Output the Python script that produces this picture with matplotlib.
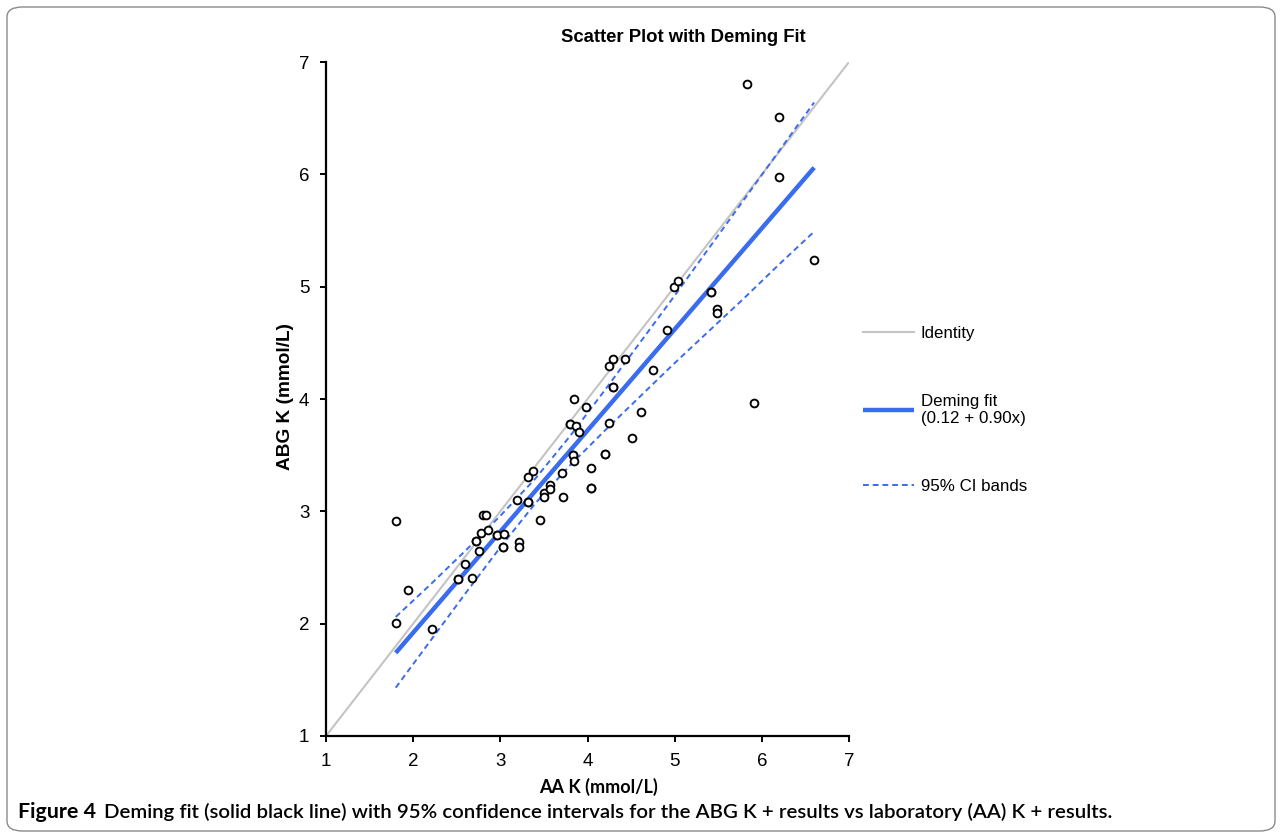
import matplotlib
matplotlib.use("Agg")
import matplotlib.pyplot as plt
from matplotlib.patches import FancyBboxPatch
from matplotlib.lines import Line2D

# ---------------- data ----------------
aa_k = [1.80, 1.80, 1.94, 2.22, 2.52, 2.52, 2.59, 2.68, 2.72, 2.72,
        2.75, 2.78, 2.80, 2.84, 2.86, 2.96, 2.96, 3.04, 3.03, 3.03,
        3.21, 3.21, 3.19, 3.32, 3.32, 3.32, 3.37, 3.45, 3.50, 3.50,
        3.57, 3.57, 3.72, 3.71, 3.83, 3.83, 3.84, 4.04, 4.04, 4.04,
        4.20, 4.20, 3.80, 3.80, 3.87, 3.90, 3.85, 3.98, 4.25, 4.51,
        4.61, 4.29, 4.29, 4.25, 4.29, 4.43, 4.75, 4.91, 4.99, 5.04,
        5.42, 5.42, 5.49, 5.49, 5.91, 5.83, 6.20, 6.20, 6.60]
abg_k = [2.91, 2.01, 2.30, 1.95, 2.40, 2.40, 2.53, 2.41, 2.74, 2.74,
         2.65, 2.81, 2.97, 2.97, 2.83, 2.79, 2.79, 2.80, 2.68, 2.68,
         2.73, 2.68, 3.10, 3.08, 3.08, 3.31, 3.36, 2.92, 3.16, 3.13,
         3.23, 3.20, 3.13, 3.34, 3.50, 3.50, 3.45, 3.39, 3.21, 3.21,
         3.51, 3.51, 3.78, 3.78, 3.76, 3.71, 4.00, 3.93, 3.79, 3.65,
         3.88, 4.11, 4.11, 4.29, 4.36, 4.36, 4.26, 4.61, 5.00, 5.05,
         4.95, 4.95, 4.80, 4.77, 3.96, 6.80, 6.51, 5.98, 5.24]

identity_x = [1, 7]
identity_y = [1, 7]

fit_x = [1.8, 6.6]
fit_y = [1.74, 6.06]

band_x = [1.8, 2.2, 2.6, 3.0, 3.4, 3.8, 4.2, 4.6, 5.0, 5.4, 5.8, 6.2, 6.6]
band_upper = [2.06, 2.35, 2.65, 2.96, 3.29, 3.67, 4.08, 4.50, 4.92, 5.35, 5.78, 6.21, 6.64]
band_lower = [1.43, 1.85, 2.27, 2.68, 3.07, 3.41, 3.72, 4.02, 4.32, 4.61, 4.90, 5.20, 5.49]

ticks = [1, 2, 3, 4, 5, 6, 7]

title = "Scatter Plot with Deming Fit"
xlabel = "AA K (mmol/L)"
ylabel = "ABG K (mmol/L)"
legend_labels = ["Identity", "Deming fit\n(0.12 + 0.90x)", "95% CI bands"]
caption_bold = "Figure 4"
caption_rest = ("Deming fit (solid black line) with 95% confidence intervals for the "
                "ABG K + results vs laboratory (AA) K + results.")

# ---------------- styling ----------------
BLUE = "#3a6cf0"
GREY = "#c4c4c4"
SANS = ["Liberation Sans", "DejaVu Sans"]
CAPTION = ["Lato", "Liberation Sans", "DejaVu Sans"]

plt.rcParams["font.family"] = SANS

fig = plt.figure(figsize=(12.82, 8.40), dpi=100)
W, H = 1282, 840

# rounded border around the figure
border = FancyBboxPatch((7 / W, 9 / H), 1268 / W, 824 / H,
                        boxstyle="round,pad=0,rounding_size=0.012",
                        transform=fig.transFigure, fill=False,
                        edgecolor="#8a8a8a", linewidth=1.0)
fig.patches.append(border)

ax = fig.add_axes([326 / W, 1 - 736 / H, 523 / W, 674 / H])

ax.plot(identity_x, identity_y, color=GREY, lw=1.5, zorder=1)
ax.plot(fit_x, fit_y, color=BLUE, lw=3.2, solid_capstyle="butt", zorder=2)
ax.plot(band_x, band_upper, color=BLUE, lw=1.4, ls=(0, (3, 2)), zorder=2)
ax.plot(band_x, band_lower, color=BLUE, lw=1.4, ls=(0, (3, 2)), zorder=2)
ax.plot(aa_k, abg_k, ls="none", marker="o", ms=5.6, mfc="white", mec="black",
        mew=1.35, zorder=3)

ax.set_xlim(1, 7)
ax.set_ylim(1, 7)
ax.set_xticks(ticks)
ax.set_yticks(ticks)
ax.tick_params(direction="out", length=4, width=1.4, labelsize=13.5, pad=8,
               colors="black")
for s in ["top", "right"]:
    ax.spines[s].set_visible(False)
for s in ["left", "bottom"]:
    ax.spines[s].set_linewidth(1.6)
ax.patch.set_alpha(0)

# title & axis labels
fig.text(683 / W, 1 - 38 / H, title, ha="center", va="center",
         fontsize=13.3, fontweight="bold")
fig.text(598 / W, 1 - 787 / H, xlabel, ha="center", va="center",
         fontsize=13.0, fontweight="bold", family=CAPTION)
fig.text(286 / W, 1 - 397 / H, ylabel, ha="center", va="center",
         rotation=90, fontsize=13.7, fontweight="bold")

# legend (outside, to the right)
handles = [
    Line2D([], [], color=GREY, lw=1.5),
    Line2D([], [], color=BLUE, lw=3.2, solid_capstyle="butt"),
    Line2D([], [], color=BLUE, lw=1.4, ls=(0, (3, 2))),
]
fig.legend(handles, legend_labels, loc="upper left",
           bbox_to_anchor=(848 / W, 1 - 311 / H), frameon=False,
           fontsize=12.2, handlelength=3.0, handletextpad=0.4,
           labelspacing=3.1)

# caption
fig.text(18 / W, 1 - 812 / H, caption_bold, ha="left", va="center",
         fontsize=15.4, fontweight="bold", family=CAPTION)
fig.text(104 / W, 1 - 812 / H, caption_rest, ha="left", va="center",
         fontsize=14.7, fontweight="semibold", family=CAPTION)

fig.savefig("out.png", dpi=100)
